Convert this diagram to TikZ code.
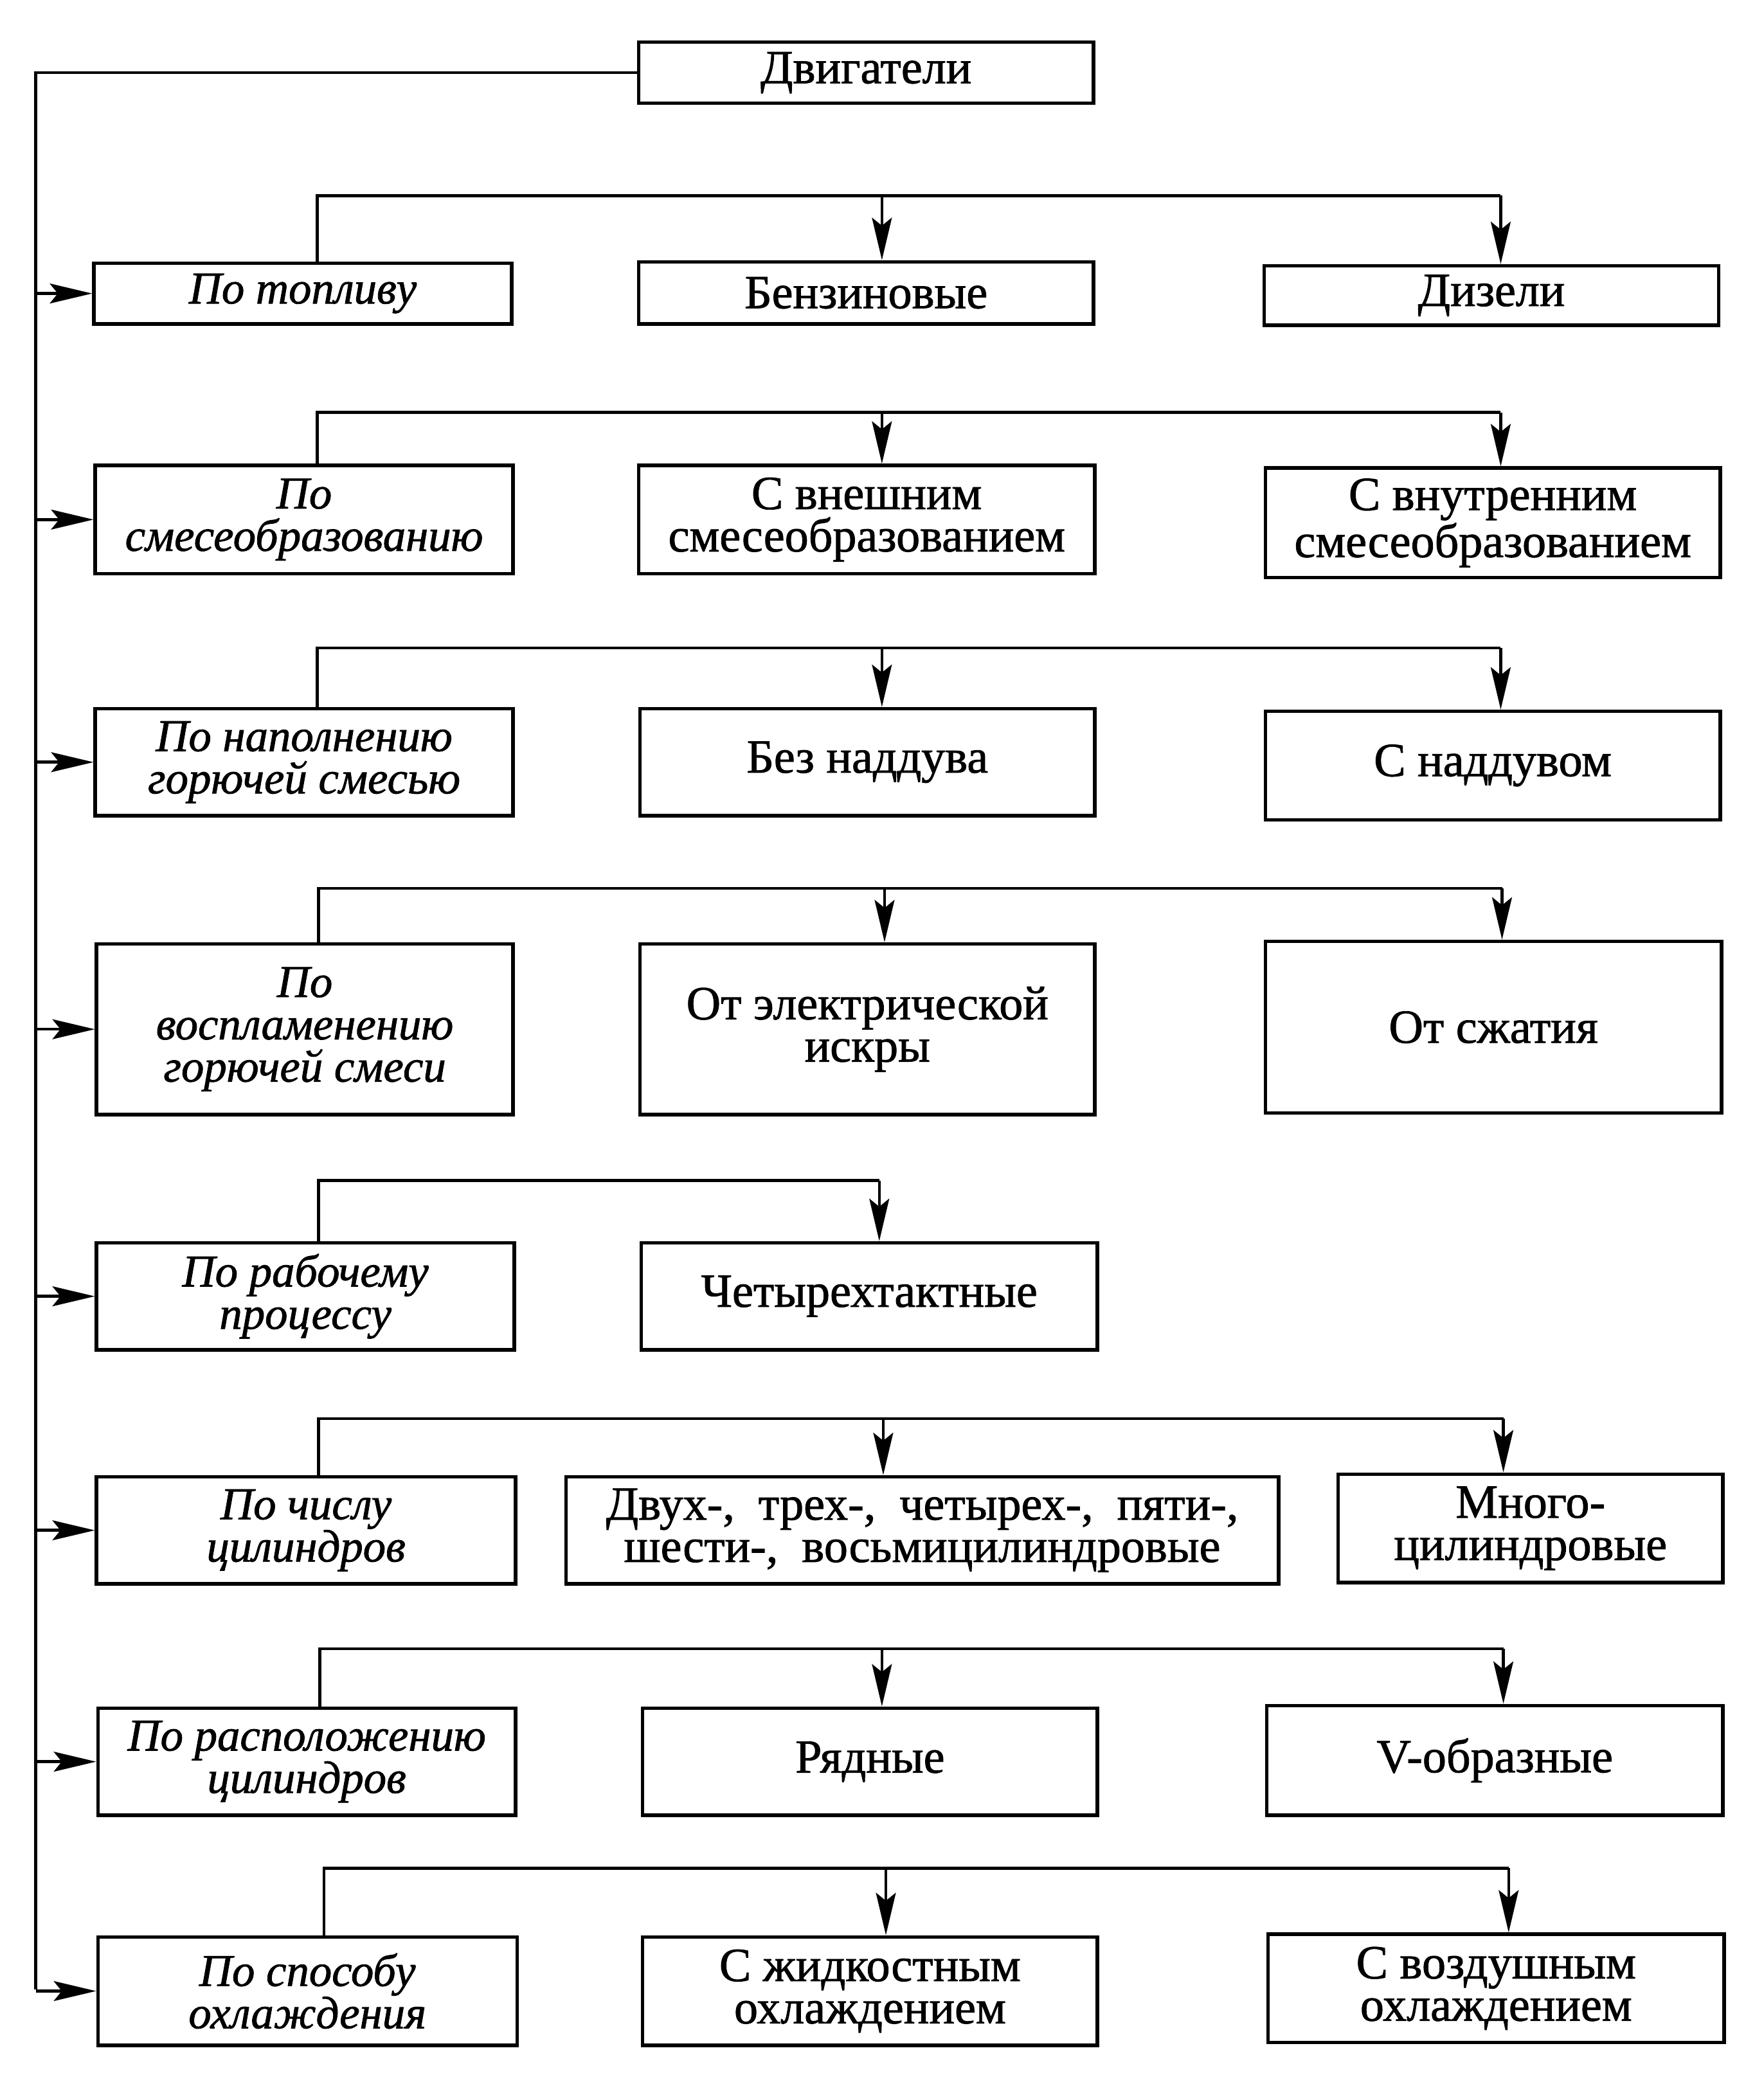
\documentclass[tikz,border=0pt]{standalone}
\usepackage{fontspec}
\setmainfont{Liberation Serif}[FakeBold=1.2]
\usetikzlibrary{arrows.meta}
\tikzset{
  box/.style={draw, line width=1.3pt, rectangle, inner sep=0pt, align=center,
    font=\fontsize{18}{16}\selectfont},
  cat/.style={box, font=\fontsize{17.2}{16}\selectfont\itshape},
  ln/.style={line width=1.1pt},
  arr/.style={ln, -{Stealth[length=16pt,width=7.5pt,inset=3pt]}},
}
\newcommand\mybox[7]{\node[#1,minimum width={(#5-#3)*0.5pt},minimum height={(#6-#4)*0.5pt}] (#2) at ({(#3+#5)/2},{(#4+#6)/2}) {#7};}
\newcommand\mybranch[6]{%
  \coordinate (h#1l) at (#3,#2);
  \coordinate (h#1a) at (#4,#2);
  \coordinate (h#1r) at (#5,#2);
  \draw[ln] (h#1l |- c#1.north) -- (h#1l) -- (h#1r);
  \draw[arr] (h#1a) -- (h#1a |- a#1.north);
  #6}
\begin{document}
\begin{tikzpicture}[x=0.5pt,y=-0.5pt]
\useasboundingbox (0,0) rectangle (1334,1568);
\mybox{box}{dv}{483}{32}{827}{78}{Двигатели}
\mybox{cat}{c1}{71}{199}{387}{245}{По топливу}
\mybox{box}{a1}{483}{198}{827}{245}{Бензиновые}
\mybox{box}{b1}{956}{201}{1300}{246}{Дизели}
\mybox{cat}{c2}{72}{352}{388}{434}{По\\смесеобразованию}
\mybox{box}{a2}{483}{352}{828}{434}{С внешним\\смесеобразованием}
\mybox{box}{b2}{957}{354}{1301}{437}{С внутренним\\смесеобразованием}
\mybox{cat}{c3}{72}{536}{388}{617}{По наполнению\\горючей смесью}
\mybox{box}{a3}{484}{536}{828}{617}{Без наддува}
\mybox{box}{b3}{957}{538}{1301}{620}{С наддувом}
\mybox{cat}{c4}{73}{714}{388}{843}{По\\воспламенению\\горючей смеси}
\mybox{box}{a4}{484}{714}{828}{843}{От электрической\\искры}
\mybox{box}{b4}{957}{712}{1302}{842}{От сжатия}
\mybox{cat}{c5}{73}{940}{389}{1021}{По рабочему\\процессу}
\mybox{box}{a5}{485}{940}{830}{1021}{Четырехтактные}
\mybox{cat}{c6}{73}{1117}{390}{1198}{По числу\\цилиндров}
\mybox{box}{a6}{428}{1117}{967}{1198}{Двух-, \ трех-, \ четырех-, \ пяти-,\\шести-, \ восьмицилиндровые}
\mybox{box}{b6}{1012}{1115}{1303}{1197}{Много-\\цилиндровые}
\mybox{cat}{c7}{74}{1292}{390}{1373}{По расположению\\цилиндров}
\mybox{box}{a7}{486}{1292}{830}{1373}{Рядные}
\mybox{box}{b7}{958}{1290}{1303}{1373}{V-образные}
\mybox{cat}{c8}{74}{1465}{391}{1547}{По способу\\охлаждения}
\mybox{box}{a8}{486}{1465}{830}{1547}{С жидкостным\\охлаждением}
\mybox{box}{b8}{959}{1463}{1304}{1545}{С воздушным\\охлаждением}
% trunk
\coordinate (tb) at (27,1505);
\draw[ln] (dv.west) -| (tb);
\foreach \i in {1,...,8}{\draw[arr] (c\i.west -| tb) -- (c\i.west);}
% branches
\mybranch{1}{148}{240}{667}{1135}{\draw[arr] (h1r) -- (h1r |- b1.north);}
\mybranch{2}{312}{240}{667}{1135}{\draw[arr] (h2r) -- (h2r |- b2.north);}
\mybranch{3}{490}{240}{667}{1135}{\draw[arr] (h3r) -- (h3r |- b3.north);}
\mybranch{4}{672}{241}{669}{1136}{\draw[arr] (h4r) -- (h4r |- b4.north);}
\mybranch{5}{893}{241}{665}{665}{}
\mybranch{6}{1073}{241}{668}{1137}{\draw[arr] (h6r) -- (h6r |- b6.north);}
\mybranch{7}{1247}{242}{667}{1137}{\draw[arr] (h7r) -- (h7r |- b7.north);}
\mybranch{8}{1413}{245}{670}{1141}{\draw[arr] (h8r) -- (h8r |- b8.north);}
\end{tikzpicture}
\end{document}
